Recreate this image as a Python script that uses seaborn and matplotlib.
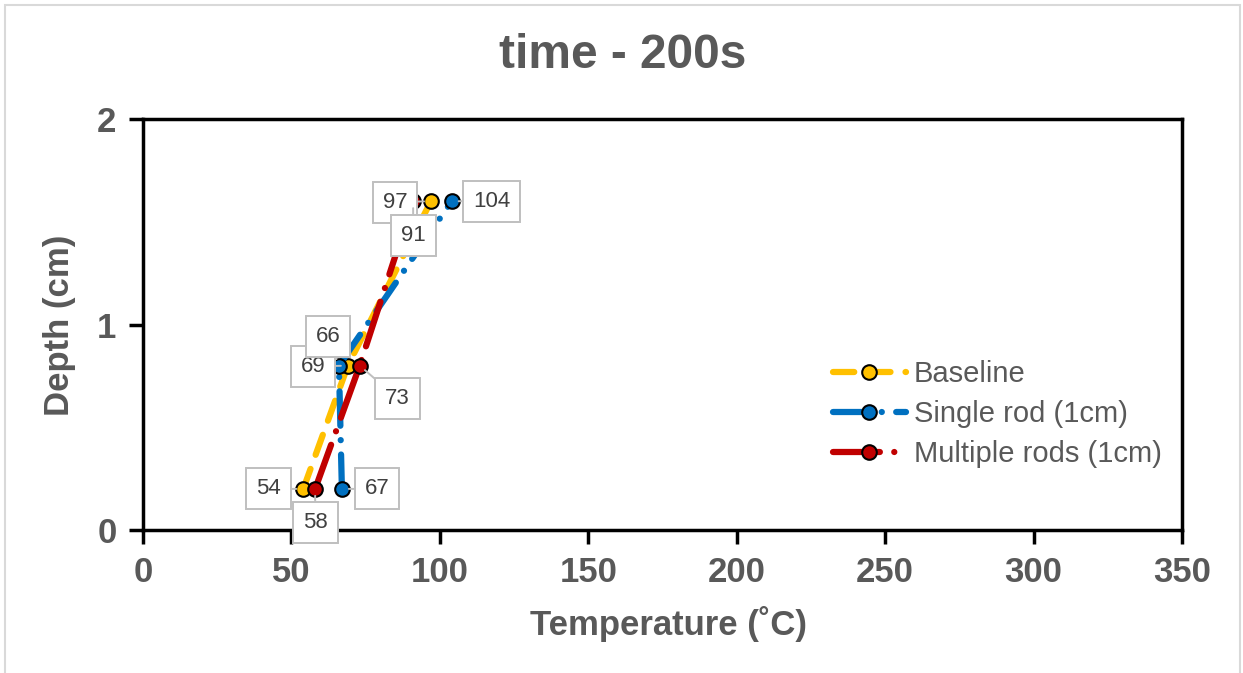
import numpy as np
import pandas as pd
import seaborn as sns
import matplotlib.pyplot as plt
from matplotlib.patches import Rectangle

# data
depth = [0.2, 0.8, 1.6]
baseline = [54, 69, 97]
single_rod = [67, 66, 104]
multiple_rods = [58, 73, 91]

series_names = ["Baseline", "Single rod (1cm)", "Multiple rods (1cm)"]
series_vals = [baseline, single_rod, multiple_rods]
colors = ["#FFC000", "#0070C0", "#C00000"]
dash_styles = [(3.4, 2.4), (5.5, 2.3, 0.01, 2.3), (7.5, 2.3, 0.01, 2.3)]

# label offsets (pixels) for each data label
label_offsets = {
    "Baseline": [(-35, 0), (-35, -1), (-36, -1)],
    "Single rod (1cm)": [(35, 0), (-11, 29), (40, 0)],
    "Multiple rods (1cm)": [(0, -34), (38, -33), (0, -34)],
}

sns.set_style("white")
plt.rcParams["font.family"] = ["Liberation Sans", "DejaVu Sans"]

grey = "#595959"
fig = plt.figure(figsize=(12.43, 6.73), dpi=100)
ax = fig.add_axes([143 / 1243, 1 - 530 / 673, (1182 - 143) / 1243, (530 - 119) / 673])

for name, vals, col, dash in zip(series_names, series_vals, colors, dash_styles):
    df = pd.DataFrame({"Temperature": vals, "Depth": depth})
    sns.lineplot(data=df, x="Temperature", y="Depth", ax=ax, sort=False, estimator=None,
                 color=col, linewidth=4.5, dashes=False, label=name,
                 marker="o", markersize=10.5, markeredgecolor="black", markeredgewidth=1.5)
    line = ax.lines[-1]
    line.set_dashes(dash)
    line.set_dash_capstyle("round")
    line.set_solid_capstyle("round")

# data labels
for name, vals in zip(series_names, series_vals):
    for x, y, off in zip(vals, depth, label_offsets[name]):
        ax.annotate(f"{x}", xy=(x, y), xytext=off, textcoords="offset pixels",
                    ha="center", va="center", fontsize=16, color="#404040",
                    bbox=dict(boxstyle="square,pad=0.45", fc="white", ec="#bfbfbf", lw=1.4),
                    arrowprops=dict(arrowstyle="-", color="#bfbfbf", lw=1.4, shrinkA=0, shrinkB=5),
                    zorder=5)

ax.set_xlim(0, 350)
ax.set_ylim(0, 2)
ax.set_xticks(np.arange(0, 351, 50))
ax.set_yticks([0, 1, 2])
ax.tick_params(axis="both", direction="out", length=10, width=2.5, color="black",
               labelsize=25, labelcolor=grey, pad=9, bottom=True, left=True)
for lab in ax.get_xticklabels() + ax.get_yticklabels():
    lab.set_fontweight("bold")
for sp in ax.spines.values():
    sp.set_visible(True)
    sp.set_color("black")
    sp.set_linewidth(2.5)

ax.set_xlabel("")
ax.set_ylabel("")
fig.text(669 / 1243, 1 - 624 / 673, "Temperature (˚C)", ha="center", va="center",
         fontsize=25, fontweight="bold", color=grey)
fig.text(60 / 1243, 1 - 325 / 673, "Depth (cm)", ha="center", va="center", rotation=90,
         fontsize=25, fontweight="bold", color=grey)
fig.text(623 / 1243, 1 - 55 / 673, "time - 200s", ha="center", va="center",
         fontsize=34.5, fontweight="bold", color=grey)

leg = ax.legend(loc="upper left", bbox_to_anchor=(833 / 1243, 1 - 360 / 673),
                bbox_transform=fig.transFigure, frameon=False, fontsize=21,
                handlelength=2.5, handletextpad=0.28, labelspacing=0.42, borderpad=0,
                borderaxespad=0)
for t in leg.get_texts():
    t.set_color(grey)

fig.patches.append(Rectangle((5 / 1243, -0.01), 1235 / 1243, 1.01 - 5 / 673,
                             transform=fig.transFigure, fill=False, ec="#d9d9d9", lw=1.5))

fig.savefig("out.png", dpi=100)
